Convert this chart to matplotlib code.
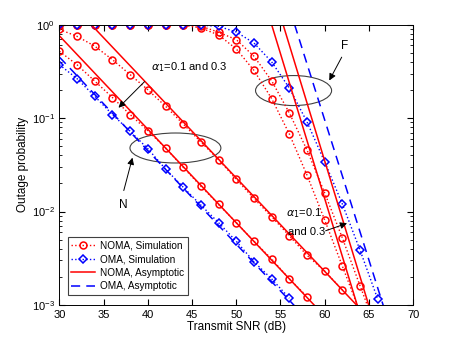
import numpy as np
import matplotlib
matplotlib.use('Agg')
from matplotlib import pyplot as plt
from matplotlib.patches import Ellipse

plt.rcParams['font.family'] = ['Liberation Sans', 'DejaVu Sans']
plt.rcParams['mathtext.fontset'] = 'dejavusans'

# simulation points (every 2 dB)
snr_n = np.arange(30, 58, 2)          # OMA near user
oma_n_sim = [0.373, 0.264, 0.171, 0.109, 0.0723, 0.047, 0.0285, 0.0182,
             0.0117, 0.0076, 0.0048, 0.0029, 0.0019, 0.00118]
snr_n1 = np.arange(30, 60, 2)         # NOMA near user, alpha1 = 0.1
noma_n1_sim = [0.519, 0.372, 0.249, 0.166, 0.109, 0.0733, 0.0479, 0.0297,
               0.0187, 0.0119, 0.0076, 0.0048, 0.0031, 0.0019, 0.00123]
snr_n3 = np.arange(30, 64, 2)         # NOMA near user, alpha1 = 0.3
noma_n3_sim = [0.891, 0.75, 0.589, 0.422, 0.292, 0.201, 0.134, 0.0865,
               0.0555, 0.0359, 0.0221, 0.0138, 0.0088, 0.0055, 0.0034,
               0.0023, 0.00145]

snr_f = np.arange(30, 68, 2)          # far user curves
oma_f_sim = [1.0, 1.0, 1.0, 1.0, 1.0, 1.0, 1.0, 1.0, 0.99, 0.96, 0.835,
             0.637, 0.40, 0.21, 0.091, 0.034, 0.012, 0.00385, 0.00115]
noma_f1_sim = [1.0, 1.0, 1.0, 1.0, 1.0, 1.0, 1.0, 1.0, 0.966, 0.83, 0.692,
               0.459, 0.251, 0.1135, 0.0455, 0.0158, 0.0052, 0.0016, 0.0005]
noma_f3_sim = [1.0, 1.0, 1.0, 1.0, 1.0, 1.0, 1.0, 0.99, 0.923, 0.776, 0.55,
               0.324, 0.162, 0.0676, 0.0245, 0.0081, 0.0026, 0.00083, 0.0003]

# asymptotic lines (end points)
asy_n1_x, asy_n1_y = [30, 59.5], [0.76, 8.5e-4]
asy_n3_x, asy_n3_y = [33.6, 64], [1.0, 9.1e-4]
asy_on_x, asy_on_y = [30, 57], [0.45, 8.9e-4]
asy_f1_x, asy_f1_y = [54, 64], [1.0, 7.9e-4]
asy_f3_x, asy_f3_y = [55.3, 65.3], [1.0, 7.9e-4]
asy_of_x, asy_of_y = [56.6, 67], [1.0, 7.6e-4]

fig = plt.figure(figsize=(4.57, 3.43), dpi=100)
ax = fig.add_axes([0.130, 0.111, 0.774, 0.817])

mk = dict(markersize=5, markerfacecolor='none', markeredgewidth=1.1)
# simulations
ax.semilogy(snr_n3, noma_n3_sim, color='red', linestyle=':', marker='o', lw=1, **mk)
ax.semilogy(snr_n1, noma_n1_sim, color='red', linestyle=':', marker='o', lw=1, **mk)
ax.semilogy(snr_f, noma_f1_sim, color='red', linestyle=':', marker='o', lw=1, **mk)
ax.semilogy(snr_f, noma_f3_sim, color='red', linestyle=':', marker='o', lw=1, **mk)
ax.semilogy(snr_n, oma_n_sim, color='blue', linestyle=':', marker='D', lw=1,
            markersize=4.5, markerfacecolor='none', markeredgewidth=1.1)
ax.semilogy(snr_f, oma_f_sim, color='blue', linestyle=':', marker='D', lw=1,
            markersize=4.5, markerfacecolor='none', markeredgewidth=1.1)
# asymptotics
ax.semilogy(asy_n1_x, asy_n1_y, color='red', lw=1.1)
ax.semilogy(asy_n3_x, asy_n3_y, color='red', lw=1.1)
ax.semilogy(asy_f1_x, asy_f1_y, color='red', lw=1.1)
ax.semilogy(asy_f3_x, asy_f3_y, color='red', lw=1.1)
ax.semilogy(asy_on_x, asy_on_y, color='blue', lw=1.1, linestyle=(0, (6, 4)))
ax.semilogy(asy_of_x, asy_of_y, color='blue', lw=1.1, linestyle=(0, (6, 4)))

# legend handles
h1, = ax.plot([], [], color='red', linestyle=':', marker='o', lw=1, **mk)
h2, = ax.plot([], [], color='blue', linestyle=':', marker='D', lw=1,
              markersize=4.5, markerfacecolor='none', markeredgewidth=1.1)
h3, = ax.plot([], [], color='red', lw=1.1)
h4, = ax.plot([], [], color='blue', lw=1.1, linestyle=(0, (6, 4)))
leg = ax.legend([h1, h2, h3, h4],
                ['NOMA, Simulation', 'OMA, Simulation', 'NOMA, Asymptotic', 'OMA, Asymptotic'],
                loc='lower left', bbox_to_anchor=(0.024, 0.036), borderaxespad=0,
                fontsize=7.2, fancybox=False, framealpha=1, edgecolor='#404040',
                handlelength=2.4, labelspacing=0.35, borderpad=0.35, handletextpad=0.5)
leg.get_frame().set_linewidth(0.8)

# ellipses and notes
ax.add_patch(Ellipse((0.328, 0.560), 0.257, 0.107, transform=ax.transAxes,
                     fill=False, edgecolor='#404040', lw=0.8))
ax.add_patch(Ellipse((0.662, 0.765), 0.215, 0.107, transform=ax.transAxes,
                     fill=False, edgecolor='#404040', lw=0.8))
arw = dict(arrowstyle='-|>', color='black', lw=0.7, mutation_scale=10)
ax.annotate('', xy=(36.46, 0.123), xytext=(39.85, 0.258), arrowprops=arw)
ax.text(40.4, 0.352, r'$\alpha_1$=0.1 and 0.3', fontsize=8, va='center', ha='left')
ax.annotate('', xy=(38.34, 0.0403), xytext=(37.2, 0.0157), arrowprops=arw)
ax.text(37.2, 0.0117, 'N', fontsize=8.5, va='center', ha='center')
ax.annotate('', xy=(60.37, 0.238), xytext=(62.07, 0.477), arrowprops=arw)
ax.text(62.26, 0.59, 'F', fontsize=8.5, va='center', ha='center')
ax.annotate('', xy=(62.82, 0.00766), xytext=(59.81, 0.00608), arrowprops=arw)
ax.text(55.67, 0.00957, r'$\alpha_1$=0.1', fontsize=8, va='center', ha='left')
ax.text(55.82, 0.00608, 'and 0.3', fontsize=8, va='center', ha='left')

ax.set_xlim(30, 70)
ax.set_ylim(1e-3, 1)
ax.set_xticks(np.arange(30, 71, 5))
ax.tick_params(which='both', direction='in', top=True, right=True, labelsize=8)
ax.tick_params(which='major', length=4)
ax.tick_params(which='minor', length=2)
for s in ax.spines.values():
    s.set_linewidth(0.7)
ax.set_xlabel('Transmit SNR (dB)', fontsize=8.5, labelpad=1)
ax.set_ylabel('Outage probability', fontsize=8.5, labelpad=2)

fig.savefig('out.png', dpi=100)
